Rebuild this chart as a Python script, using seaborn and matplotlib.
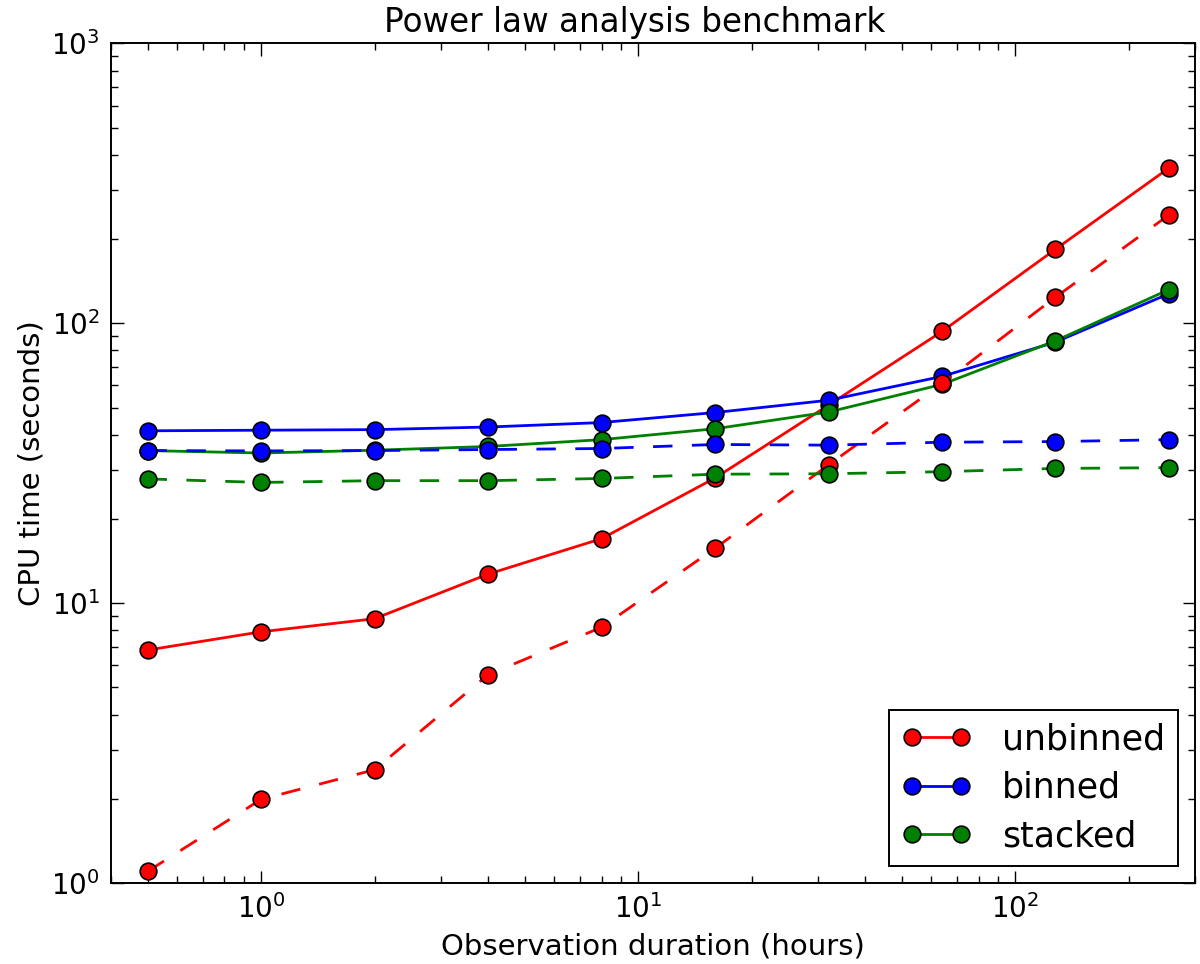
import matplotlib
matplotlib.use("Agg")
import matplotlib.pyplot as plt
import seaborn as sns
import pandas as pd

# observation durations (hours)
hours = [0.5, 1, 2, 4, 8, 16, 32, 64, 128, 256]

# CPU time (seconds), solid curves
unbinned = [6.8, 7.9, 8.8, 12.7, 17.0, 28.0, 51.0, 93.5, 184.0, 359.0]
binned = [41.3, 41.5, 41.7, 42.6, 44.2, 48.0, 53.1, 64.6, 85.7, 127.6]
stacked = [35.1, 34.4, 35.2, 36.3, 38.4, 42.0, 48.2, 60.5, 86.6, 132.0]

# CPU time (seconds), dashed curves
unbinned_dash = [1.1, 1.99, 2.54, 5.55, 8.2, 15.7, 31.2, 61.0, 124.0, 244.0]
binned_dash = [35.1, 35.0, 35.1, 35.4, 35.7, 36.9, 36.7, 37.6, 37.8, 38.4]
stacked_dash = [27.8, 27.0, 27.4, 27.4, 27.9, 28.9, 29.0, 29.5, 30.3, 30.5]

sns.set_style("ticks", {"text.color": "black", "axes.labelcolor": "black",
                        "xtick.color": "black", "ytick.color": "black",
                        "axes.edgecolor": "black",
                        "xtick.direction": "in", "ytick.direction": "in"})
plt.rcParams['font.family'] = ['DejaVu Sans']

fig = plt.figure(figsize=(12, 9.64), dpi=100)
ax = fig.add_axes([0.0925, 0.084, 0.9033, 0.8709])

series = [
    (unbinned, "red", "-", "unbinned"),
    (binned, "blue", "-", "binned"),
    (stacked, "green", "-", "stacked"),
    (unbinned_dash, "red", "--", None),
    (binned_dash, "blue", "--", None),
    (stacked_dash, "green", "--", None),
]

for vals, col, ls, lab in series:
    df = pd.DataFrame({"hours": hours, "cpu": vals})
    sns.lineplot(data=df, x="hours", y="cpu", ax=ax, color=col, linestyle=ls,
                 linewidth=2, marker="o", markersize=12, markeredgecolor="black",
                 markeredgewidth=1.2, dashes=False, label=lab, legend=False)
    if ls == "--":
        ax.lines[-1].set_dashes([7, 7])

ax.set_xscale("log")
ax.set_yscale("log")
ax.set_xlim(0.4, 300)
ax.set_ylim(1, 1000)

ax.set_title("Power law analysis benchmark", fontsize=23.5, pad=8, color="black", x=0.4834)
ax.set_xlabel("Observation duration (hours)", fontsize=21, labelpad=6)
ax.set_ylabel("CPU time (seconds)", fontsize=21, labelpad=4)

ax.tick_params(which="both", top=True, right=True, direction="in", color="black")
ax.tick_params(which="major", length=9, width=1, labelsize=20, pad=8)
ax.tick_params(which="minor", length=5, width=1)
for sp in ax.spines.values():
    sp.set_linewidth(1.4)
    sp.set_color("black")

handles = ax.lines[:3]
leg = ax.legend(handles, ["unbinned", "binned", "stacked"], loc="lower right",
                numpoints=2, fontsize=25, fancybox=False, framealpha=1,
                edgecolor="black", handlelength=2.0, borderpad=0.35,
                labelspacing=0.42, handletextpad=0.9, borderaxespad=0.5)
leg.get_frame().set_linewidth(1.4)

fig.savefig("out.png", dpi=100)
